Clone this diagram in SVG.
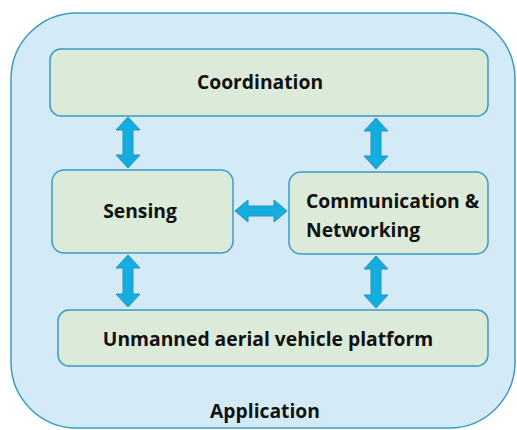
<svg xmlns="http://www.w3.org/2000/svg" width="517" height="430" viewBox="0 0 517 430">
<style>
.bg{fill:#d4eaf6;stroke:#3a9cc4;stroke-width:1.5}
.box{fill:#dcebd9;stroke:#3a9cc4;stroke-width:1.5}
.arr{fill:#12aedf;stroke:#2c92b8;stroke-width:1}
text{font-family:"Open Sans","Liberation Sans",sans-serif;font-weight:bold;font-size:19.3px;fill:#111}
</style>
<rect width="517" height="430" fill="#ffffff"/>
<g id="application">
<rect class="bg" x="11" y="13" width="504" height="415" rx="66" ry="66"/>
<text x="265" y="418" text-anchor="middle">Application</text>
</g>
<g id="coordination">
<rect class="box" x="50" y="49" width="438" height="67" rx="11"/>
<text x="260" y="89" text-anchor="middle">Coordination</text>
</g>
<g id="sensing">
<rect class="box" x="52" y="170" width="181" height="83" rx="12"/>
<text x="140" y="218" text-anchor="middle">Sensing</text>
</g>
<g id="communication">
<rect class="box" x="289" y="172" width="199" height="82" rx="12"/>
<text x="306" y="208">Communication &amp;</text>
<text x="306" y="237">Networking</text>
</g>
<g id="uav">
<rect class="box" x="58" y="310" width="430" height="56" rx="11"/>
<text x="268" y="346" text-anchor="middle">Unmanned aerial vehicle platform</text>
</g>
<g id="connectors">
<polygon class="arr" points="128,117 140,130 133,130 133,155 140,155 128,168 116,155 123,155 123,130 116,130"/>
<polygon class="arr" points="376,118 388,131 381,131 381,156 388,156 376,169 364,156 371,156 371,131 364,131"/>
<polygon class="arr" points="128,255 140,268 133,268 133,294 140,294 128,307 116,294 123,294 123,268 116,268"/>
<polygon class="arr" points="376,256 388,269 381,269 381,295 388,295 376,308 364,295 371,295 371,269 364,269"/>
<polygon class="arr" points="235,211 248,200 248,206 274,206 274,200 287,211 274,222 274,216 248,216 248,222"/>
</g>
</svg>
